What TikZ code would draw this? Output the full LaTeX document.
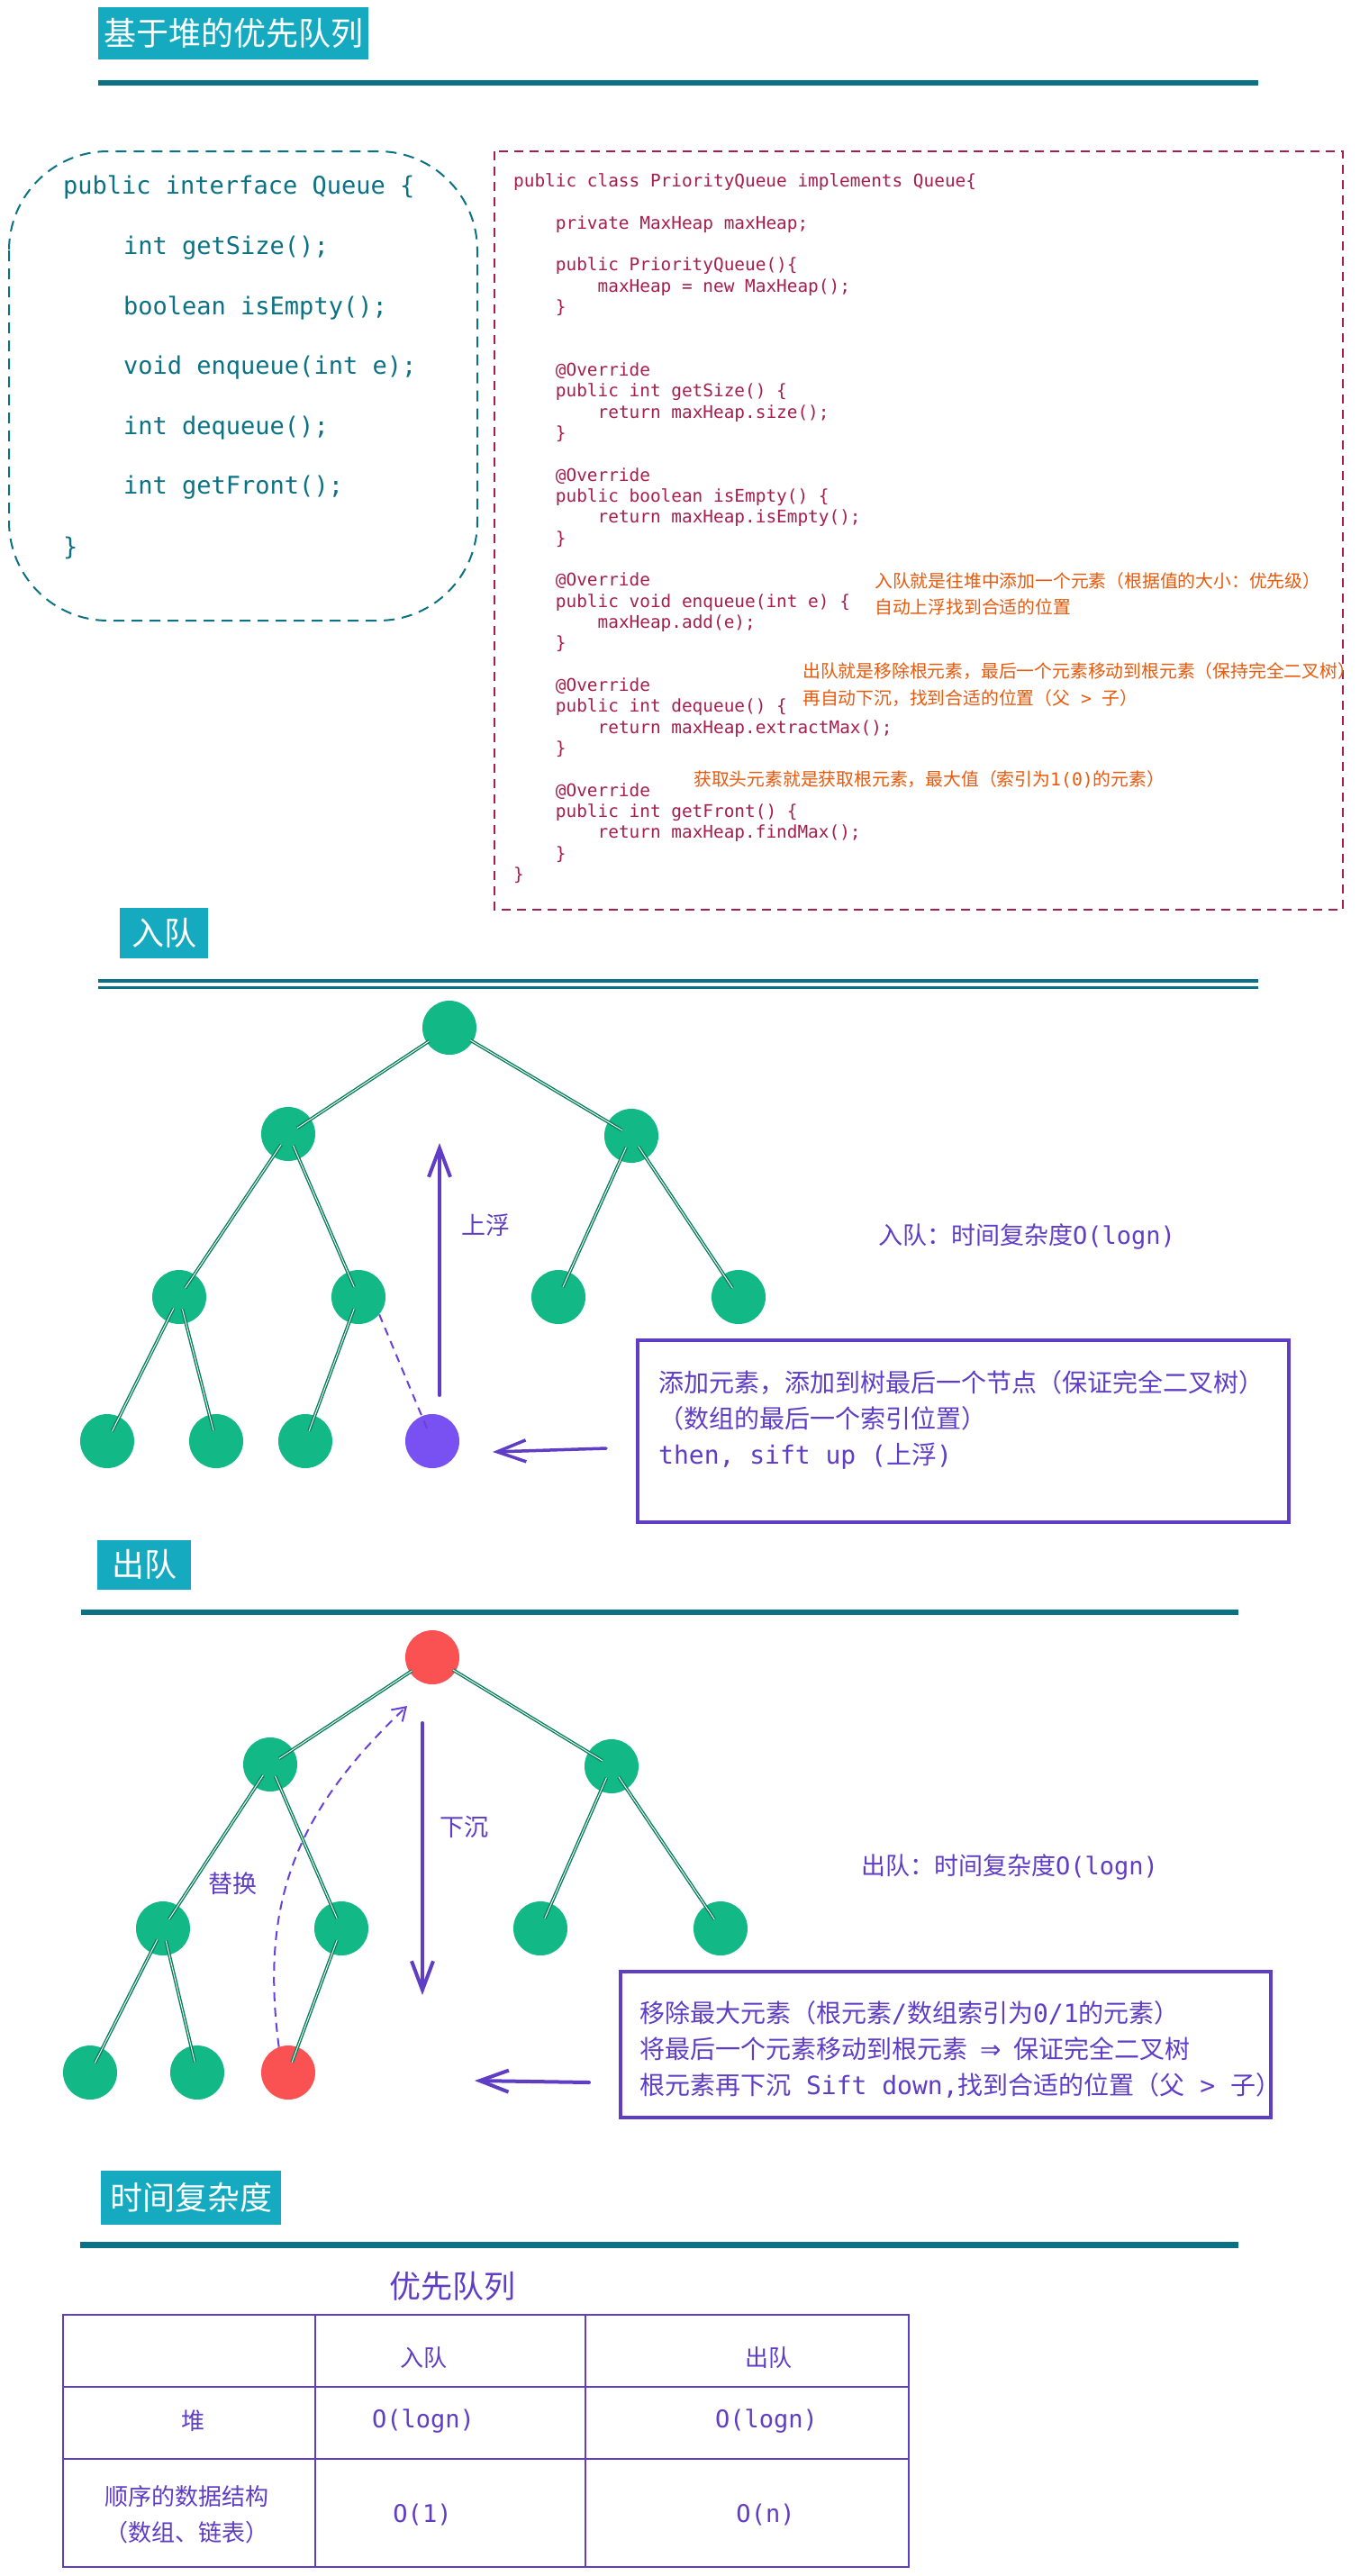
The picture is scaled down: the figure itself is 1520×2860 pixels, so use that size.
\documentclass[tikz,border=0pt]{standalone}
\usepackage{fontspec}
\setmainfont{DejaVu Sans}
\newfontfamily\cjk{Noto Sans CJK SC}
\newfontfamily\mono{DejaVu Sans Mono}
\newfontfamily\djv{DejaVu Sans}
\usetikzlibrary{arrows.meta,calc}
\newcommand{\setfs}[2]{\fontsize{#1}{#2}\selectfont}
\newcommand{\ind}{\phantom{0000}}
\newcommand{\indd}{\phantom{00000000}}
\definecolor{cyanA}{HTML}{15AABF}
\definecolor{tealD}{HTML}{0B7285}
\definecolor{codeR}{HTML}{A61E4D}
\definecolor{orangeA}{HTML}{E8590C}
\definecolor{nodeG}{HTML}{12B886}
\definecolor{edgeG}{HTML}{087F5B}
\definecolor{nodeR}{HTML}{FA5252}
\definecolor{nodeP}{HTML}{7950F2}
\definecolor{vio}{HTML}{5F3DC4}
\definecolor{vioL}{HTML}{6741D9}
\tikzset{
  badge/.style={fill=cyanA, text=white, inner sep=0pt, font=\cjk\setfs{36}{40}, anchor=west},
  hnode/.style={circle, fill=nodeG, minimum size=60pt, inner sep=0pt},
  rnode/.style={hnode, fill=nodeR},
  pnode/.style={hnode, fill=nodeP},
  edge/.style={draw=edgeG, line width=1.4pt, double=white, double distance=0.9pt, shorten <=14pt, shorten >=12pt},
  rootedge/.style={edge, shorten <=27pt},
  rule/.style={draw=tealD, line width=6pt},
  vtext/.style={text=vio, font=\cjk\setfs{28}{34}, anchor=west, inner sep=0pt},
  ann/.style={text=orangeA, font=\cjk\setfs{19.8}{24}, anchor=west, inner sep=0pt},
  iface/.style={text=tealD, font=\mono\setfs{27}{32}, anchor=west, inner sep=0pt},
  bigarrow/.style={draw=vio, line width=4pt, line cap=round, -{Straight Barb[length=32pt,width=24pt]}},
  cell/.style={text=vio, font=\cjk\setfs{26}{32}, inner sep=0pt},
  cellm/.style={text=vio, font=\mono\setfs{27}{32}, inner sep=0pt},
  lbl/.style={text=vio, font=\cjk\setfs{27}{32}, inner sep=0pt},
}
\begin{document}
\begin{tikzpicture}[x=1pt,y=-1pt]
\useasboundingbox[fill=white] (0,0) rectangle (1520,2860);

% ---------------- title and interface ----------------
\node[badge, minimum width=300pt, minimum height=58pt] (t0) at (109,37) {基于堆的优先队列};
\draw[rule] (109,92) -- (1397,92);

\draw[tealD, line width=2pt, rounded corners=110pt, dash pattern=on 12pt off 8pt] (10,168) rectangle (530,689);
\node[iface] (q1) at (70,208) {public interface Queue \{};
\node[iface] (q2) at (137,275) {int getSize();};
\node[iface] (q3) at (137,342) {boolean isEmpty();};
\node[iface] (q4) at (137,408) {void enqueue(int e);};
\node[iface] (q5) at (137,475) {int dequeue();};
\node[iface] (q6) at (137,541) {int getFront();};
\node[iface] (q7) at (70,608) {\}};

% ---------------- class code ----------------
\draw[codeR, line width=2pt, dash pattern=on 10pt off 7pt] (549,168) rectangle (1491,1010);
\node[anchor=north west, inner sep=0pt, text=codeR, font=\mono\setfs{19.4}{23.33}] (cls) at (570,191) {\begin{tabular}{@{}l@{}}
public class PriorityQueue implements Queue\{\\
\\
\ind private MaxHeap maxHeap;\\
\\
\ind public PriorityQueue()\{\\
\indd maxHeap = new MaxHeap();\\
\ind \}\\
\\
\\
\ind @Override\\
\ind public int getSize() \{\\
\indd return maxHeap.size();\\
\ind \}\\
\\
\ind @Override\\
\ind public boolean isEmpty() \{\\
\indd return maxHeap.isEmpty();\\
\ind \}\\
\\
\ind @Override\\
\ind public void enqueue(int e) \{\\
\indd maxHeap.add(e);\\
\ind \}\\
\\
\ind @Override\\
\ind public int dequeue() \{\\
\indd return maxHeap.extractMax();\\
\ind \}\\
\\
\ind @Override\\
\ind public int getFront() \{\\
\indd return maxHeap.findMax();\\
\ind \}\\
\}
\end{tabular}};
\node[ann] (n1) at (971,645) {入队就是往堆中添加一个元素（根据值的大小：优先级）};
\node[ann] (n2) at (971,674) {自动上浮找到合适的位置};
\node[ann] (n3) at (891,745) {出队就是移除根元素，最后一个元素移动到根元素（保持完全二叉树）};
\node[ann] (n4) at (891,775) {再自动下沉，找到合适的位置（父{\mono\ >\ }子）};
\node[ann] (n5) at (770,865) {获取头元素就是获取根元素，最大值（索引为{\mono 1(0)}的元素）};

% ---------------- enqueue ----------------
\node[badge, minimum width=98pt, minimum height=56pt] (t1) at (133,1036) {入队};
\draw[tealD, line width=3.5pt] (109,1089) -- (1397,1089);
\draw[tealD, line width=3pt] (109,1096) -- (1397,1096);

\node[hnode] (r1) at (499,1141) {};
\node[hnode] (a1) at (320,1259) {};
\node[hnode] (b1) at (701,1261) {};
\node[hnode] (c1) at (199,1440) {};
\node[hnode] (d1) at (398,1440) {};
\node[hnode] (e1) at (620,1440) {};
\node[hnode] (f1) at (820,1440) {};
\node[hnode] (g1) at (119,1600) {};
\node[hnode] (h1) at (240,1600) {};
\node[hnode] (i1) at (339,1600) {};
\node[pnode] (p1) at (480,1600) {};
\draw[rootedge] (r1.center) -- (a1.center);
\draw[rootedge] (r1.center) -- (b1.center);
\draw[edge] (a1.center) -- (c1.center);
\draw[edge] (a1.center) -- (d1.center);
\draw[edge] (b1.center) -- (e1.center);
\draw[edge] (b1.center) -- (f1.center);
\draw[edge] (c1.center) -- (g1.center);
\draw[edge] (c1.center) -- (h1.center);
\draw[edge] (d1.center) -- (i1.center);
\draw[vioL, line width=2pt, dash pattern=on 9pt off 7pt, shorten >=10pt] (d1.-40) -- (p1.center);

\coordinate (upS) at (488,1549);
\coordinate (upE) at (488,1269);
\draw[bigarrow] (upS) -- (upE);
\node[lbl] (uplbl) at (539,1360) {上浮};

\node[vtext, font=\cjk\setfs{27}{32}] (eqc) at (975,1373) {入队：时间复杂度{\mono O(logn)}};

\draw[vio, line width=4.5pt] (708,1488) rectangle (1431,1690);
\node[vtext] (e1t) at (731,1535) {添加元素，添加到树最后一个节点（保证完全二叉树）};
\node[vtext] (e2t) at (731,1575) {（数组的最后一个索引位置）};
\node[vtext] (e3t) at (731,1617) {{\mono then, sift up (}上浮{\mono )}};
\coordinate (laS) at (673,1608);
\coordinate (laE) at (547,1612);
\draw[bigarrow, line width=3.5pt] (laS) -- (laE);

% ---------------- dequeue ----------------
\node[badge, minimum width=104pt, minimum height=55pt] (t2) at (108,1737) {出队};
\draw[rule] (90,1790) -- (1375,1790);

\node[rnode] (r2) at (480,1840) {};
\node[hnode] (a2) at (300,1959) {};
\node[hnode] (b2) at (679,1961) {};
\node[hnode] (c2) at (181,2141) {};
\node[hnode] (d2) at (379,2141) {};
\node[hnode] (e2) at (600,2141) {};
\node[hnode] (f2) at (800,2141) {};
\node[hnode] (g2) at (100,2301) {};
\node[hnode] (h2) at (219,2301) {};
\node[rnode] (i2) at (320,2301) {};
\draw[rootedge] (r2.center) -- (a2.center);
\draw[rootedge] (r2.center) -- (b2.center);
\draw[edge] (a2.center) -- (c2.center);
\draw[edge] (a2.center) -- (d2.center);
\draw[edge] (b2.center) -- (e2.center);
\draw[edge] (b2.center) -- (f2.center);
\draw[edge] (c2.center) -- (g2.center);
\draw[edge] (c2.center) -- (h2.center);
\draw[edge] (d2.center) -- (i2.center);

\coordinate (swE) at (452,1894);
\draw[vioL, line width=2pt, dash pattern=on 10pt off 7pt, -{Straight Barb[length=14pt,width=18pt]}] (i2.110) .. controls (288,2110) and (330,2010) .. (swE);
\node[lbl] (swlbl) at (258,2091) {替换};

\coordinate (dnS) at (469,1913);
\coordinate (dnE) at (469,2215);
\draw[bigarrow] (dnS) -- (dnE);
\node[lbl] (dnlbl) at (515,2028) {下沉};

\node[vtext, font=\cjk\setfs{27}{32}] (dqc) at (956,2073) {出队：时间复杂度{\mono O(logn)}};

\draw[vio, line width=4.5pt] (689,2189) rectangle (1411,2351);
\node[vtext] (d1t) at (710,2235) {移除最大元素（根元素{\mono /}数组索引为{\mono 0/1}的元素）};
\node[vtext] (d2t) at (710,2275) {将最后一个元素移动到根元素\hspace{14pt}{\djv ⇒}\hspace{14pt}保证完全二叉树};
\node[vtext] (d3t) at (710,2315) {根元素再下沉{\mono\ Sift down,}找到合适的位置（父{\mono\ >\ }子）};
\coordinate (lbS) at (654,2312);
\coordinate (lbE) at (527,2310);
\draw[bigarrow] (lbS) -- (lbE);

% ---------------- complexity table ----------------
\node[badge, minimum width=200pt, minimum height=60pt] (t3) at (112,2440) {时间复杂度};
\draw[tealD, line width=7pt] (89,2492) -- (1375,2492);

\node[text=vio, font=\cjk\setfs{35}{40}, inner sep=0pt] (tt) at (502,2538) {优先队列};
\draw[vio, line width=2.5pt] (70,2570) rectangle (1009,2850);
\draw[vio, line width=2.5pt] (70,2650) -- (1009,2650);
\draw[vio, line width=2.5pt] (70,2730) -- (1009,2730);
\draw[vio, line width=2pt] (350,2570) -- (350,2850);
\draw[vio, line width=2pt] (650,2570) -- (650,2850);
\node[cell] (h1c) at (470,2618) {入队};
\node[cell] (h2c) at (853,2618) {出队};
\node[cell] (r1c) at (214,2688) {堆};
\node[cellm] (r1a) at (470,2688) {O(logn)};
\node[cellm] (r1b) at (851,2688) {O(logn)};
\node[cell] (r2c) at (207,2772) {顺序的数据结构};
\node[cell] (r2d) at (207,2812) {（数组、链表）};
\node[cellm] (r2a) at (469,2792) {O(1)};
\node[cellm] (r2b) at (850,2792) {O(n)};
\end{tikzpicture}
\end{document}
